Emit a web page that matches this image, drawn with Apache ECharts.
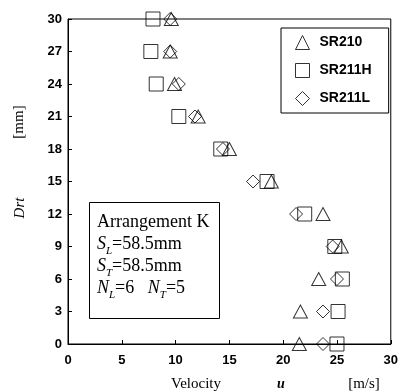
<!DOCTYPE html>
<html>
<head>
<meta charset="utf-8">
<script src="https://cdn.jsdelivr.net/npm/echarts@6/dist/echarts.min.js"></script>
<style>
  html, body { margin: 0; padding: 0; background: #fff; }
  #chart { width: 401px; height: 392px; }
</style>
</head>
<body>
<div id="chart"></div>
<script>
// depth positions (mm) and velocities (m/s)
const depths = [30, 27, 24, 21, 18, 15, 12, 9, 6, 3, 0];
const sr210 = [9.6, 9.5, 9.9, 12.1, 15.0, 18.9, 23.7, 25.4, 23.3, 21.6, 21.5];
const sr211h = [7.9, 7.7, 8.2, 10.3, 14.2, 18.5, 22.0, 24.8, 25.5, 25.1, 25.0];
const sr211l = [9.5, 9.5, 10.3, 11.8, 14.4, 17.2, 21.2, 24.6, 25.0, 23.7, 23.7];
const xTicks = [0, 5, 10, 15, 20, 25, 30];
const yTicks = [0, 3, 6, 9, 12, 15, 18, 21, 24, 27, 30];

const pairs = vals => vals.map((v, i) => [v, depths[i]]);
const serif = '"Liberation Serif", "DejaVu Serif", serif';
const sans = '"Liberation Sans", Arial, sans-serif';

const mk = (name, vals, symbol, size) => ({
  name, type: 'scatter', data: pairs(vals), symbol, symbolSize: size,
  clip: false,
  itemStyle: { color: 'rgba(0,0,0,0)', borderColor: '#000', borderWidth: 1 },
  emphasis: { disabled: true }
});

const chart = echarts.init(document.getElementById('chart'));
chart.setOption({
  animation: false,
  backgroundColor: '#fff',
  grid: { left: 68, right: 5, top: 19, bottom: 48, show: true, borderColor: '#000', borderWidth: 1 },
  xAxis: {
    type: 'value', min: xTicks[0], max: xTicks[xTicks.length - 1], interval: 5,
    axisLine: { lineStyle: { color: '#000' } },
    axisTick: { inside: true, length: 4, lineStyle: { color: '#000' } },
    splitLine: { show: false },
    axisLabel: { color: '#000', fontFamily: sans, fontWeight: 'bold', fontSize: 13, margin: 10 }
  },
  yAxis: {
    type: 'value', min: yTicks[0], max: yTicks[yTicks.length - 1], interval: 3,
    axisLine: { show: true, lineStyle: { color: '#000' } },
    axisTick: { show: true, inside: true, length: 4, lineStyle: { color: '#000' } },
    splitLine: { show: false },
    axisLabel: { color: '#000', fontFamily: sans, fontWeight: 'bold', fontSize: 13, margin: 6 }
  },
  legend: {
    orient: 'vertical', left: 281, top: 28,
    padding: [7, 17, 7, 14], itemGap: 13, itemWidth: 14, itemHeight: 14,
    borderColor: '#000', borderWidth: 1, backgroundColor: '#fff',
    itemStyle: { color: 'rgba(0,0,0,0)', borderColor: '#000', borderWidth: 1 },
    textStyle: { color: '#000', fontFamily: sans, fontWeight: 'bold', fontSize: 14, padding: [0, 0, 0, 5] },
    data: [
      { name: 'SR210', icon: 'triangle' },
      { name: 'SR211H', icon: 'rect' },
      { name: 'SR211L', icon: 'diamond' }
    ]
  },
  series: [
    mk('SR210', sr210, 'triangle', [14, 13]),
    mk('SR211H', sr211h, 'rect', 14),
    mk('SR211L', sr211l, 'diamond', [13, 13])
  ],
  graphic: [
    {
      type: 'rect', left: 89, top: 202, z: 10,
      shape: { width: 130, height: 116 },
      style: { fill: '#fff', stroke: '#000', lineWidth: 1 }
    },
    {
      type: 'text', left: 97, top: 213, z: 11,
      style: {
        text: '{t|Arrangement K}\n{i|S}{s|L}{t|=58.5mm}\n{i|S}{s|T}{t|=58.5mm}\n{i|N}{s|L}{t|=6   }{i|N}{s|T}{t|=5}',
        fill: '#000',
        rich: {
          t: { fontFamily: serif, fontSize: 18, lineHeight: 22, verticalAlign: 'bottom' },
          i: { fontFamily: serif, fontSize: 18, fontStyle: 'italic', lineHeight: 22, verticalAlign: 'bottom' },
          s: { fontFamily: serif, fontSize: 11, fontStyle: 'italic', lineHeight: 22, verticalAlign: 'bottom', padding: [0, 0, -4, 0] }
        }
      }
    },
    {
      type: 'text', x: 19, y: 122, rotation: Math.PI / 2,
      style: { text: '[mm]', fill: '#000', font: '15px ' + serif, textAlign: 'center', textVerticalAlign: 'middle' }
    },
    {
      type: 'text', x: 20, y: 208, rotation: Math.PI / 2,
      style: { text: 'Drt', fill: '#000', font: 'italic 15px ' + serif, textAlign: 'center', textVerticalAlign: 'middle' }
    },
    {
      type: 'text', x: 196, y: 384,
      style: { text: 'Velocity', fill: '#000', font: '15px ' + serif, textAlign: 'center', textVerticalAlign: 'middle' }
    },
    {
      type: 'text', x: 281, y: 384,
      style: { text: 'u', fill: '#000', font: 'italic bold 14px ' + serif, textAlign: 'center', textVerticalAlign: 'middle' }
    },
    {
      type: 'text', x: 364, y: 384,
      style: { text: '[m/s]', fill: '#000', font: '15px ' + serif, textAlign: 'center', textVerticalAlign: 'middle' }
    }
  ]
});
</script>
</body>
</html>
